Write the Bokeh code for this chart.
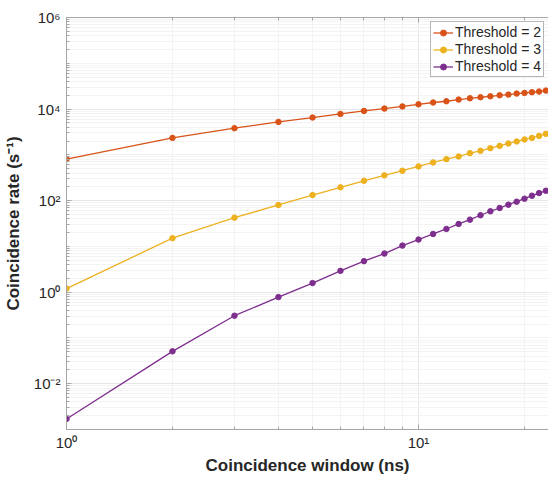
from bokeh.plotting import figure
from bokeh.models import FixedTicker, CustomJSTickFormatter, LogAxis, Range1d, Title
from bokeh.embed import file_html
from bokeh.resources import INLINE

# ---- data ----
window_ns = list(range(1, 24))
thr2 = [805, 2345, 3816, 5240, 6530, 7820, 9090, 10260, 11400, 12700, 13900, 14800,
        16100, 17200, 18100, 19000, 20000, 20700, 21800, 22500, 23300, 24100, 25300]
thr3 = [1.2, 15.1, 42.4, 80.2, 132, 195, 271, 356, 450, 558, 682, 805,
        922, 1088, 1222, 1400, 1570, 1770, 1960, 2166, 2345, 2594, 2870]
thr4 = [0.0017, 0.051, 0.306, 0.78, 1.58, 2.92, 4.76, 6.97, 10.4, 14.1, 18.7, 24.0,
        30.9, 38.4, 47.9, 58.5, 69.0, 81.5, 94.7, 110, 128, 146, 164]
series_labels = ["Threshold = 2", "Threshold = 3", "Threshold = 4"]
series_colors = ["#D95319", "#EDB120", "#7E2F8E"]
x_title = "Coincidence window (ns)"
y_title = "Coincidence rate (s\u207b\u00b9)"

x_major = [1, 10]
x_minor = [2, 3, 4, 5, 6, 7, 8, 9, 20, 30]
y_major = [1e-2, 1e0, 1e2, 1e4, 1e6]
y_minor = [k * 10.0 ** n for n in range(-3, 6) for k in range(1, 10)
           if not (k == 1 and n in (-2, 0, 2, 4))]

FONT = "Liberation Sans"
TXT = "#262626"
AXC = "#a6a6a6"

p = figure(width=548, height=474, x_axis_type="log", y_axis_type="log",
           x_range=Range1d(1, 23.4), y_range=Range1d(1e-3, 1e6),
           output_backend="svg", toolbar_location=None,
           min_border_left=65, min_border_right=0, min_border_top=17,
           min_border_bottom=0)
p.outline_line_color = None
p.background_fill_color = "white"

sup_js = """
const sup = {"-":"\u207b","0":"\u2070","1":"\u00b9","2":"\u00b2","3":"\u00b3",
             "4":"\u2074","5":"\u2075","6":"\u2076","7":"\u2077","8":"\u2078","9":"\u2079"};
const e = Math.round(Math.log10(tick));
return "10" + String(e).split("").map(c => sup[c]).join("");
"""

xt = FixedTicker(ticks=x_major, minor_ticks=x_minor)
yt = FixedTicker(ticks=y_major, minor_ticks=y_minor)

for ax, tk in ((p.xaxis[0], xt), (p.yaxis[0], yt)):
    ax.ticker = tk
    ax.formatter = CustomJSTickFormatter(code=sup_js)
    ax.major_tick_in = 5
    ax.major_tick_out = 0
    ax.minor_tick_in = 3
    ax.minor_tick_out = 0
    ax.axis_line_color = AXC
    ax.major_tick_line_color = AXC
    ax.minor_tick_line_color = AXC
    ax.major_label_text_font = FONT
    ax.major_label_text_font_size = "15px"
    ax.major_label_text_color = TXT
    ax.major_label_text_line_height = 1.0
    ax.axis_label_text_font = FONT
    ax.axis_label_text_font_size = "17px"
    ax.axis_label_text_font_style = "bold"
    ax.axis_label_text_color = TXT

p.yaxis.axis_label = y_title
p.xaxis.major_label_standoff = 4
p.yaxis.major_label_standoff = 6
p.yaxis.axis_label_standoff = 8

xt_title = Title(text=x_title, align="center", text_font=FONT, text_font_size="17px",
                 text_font_style="bold", text_color=TXT, standoff=0, offset=-16,
                 text_line_height=1.0)
p.add_layout(xt_title, "below")

top = LogAxis(ticker=FixedTicker(ticks=x_major, minor_ticks=x_minor),
              major_label_text_font_size="1px", major_label_text_color=None,
              major_label_standoff=0,
              major_tick_in=5, major_tick_out=0, minor_tick_in=3, minor_tick_out=0,
              axis_line_color=AXC, major_tick_line_color=AXC, minor_tick_line_color=AXC)
p.add_layout(top, "above")

p.xgrid.grid_line_color = "#e6e6e6"
p.ygrid.grid_line_color = "#e6e6e6"
p.xgrid.minor_grid_line_color = "#f3f3f3"
p.ygrid.minor_grid_line_color = "#f3f3f3"

for ys, lab, col in zip((thr2, thr3, thr4), series_labels, series_colors):
    p.line(window_ns, ys, line_color=col, line_width=1.3, legend_label=lab)
    p.scatter(window_ns, ys, marker="circle", size=5.5, fill_color=col,
              line_color=col, legend_label=lab)

lg = p.legend[0]
lg.location = "top_right"
lg.margin = 4
lg.padding = 2
lg.spacing = 1
lg.border_line_color = "#6e6e6e"
lg.border_line_width = 1
lg.background_fill_color = "white"
lg.background_fill_alpha = 1
lg.label_text_font = FONT
lg.label_text_font_size = "14px"
lg.label_text_color = TXT
lg.label_height = 15
lg.label_standoff = 2
lg.glyph_width = 20
lg.glyph_height = 15

open("out.html", "w").write(file_html(p, INLINE))
